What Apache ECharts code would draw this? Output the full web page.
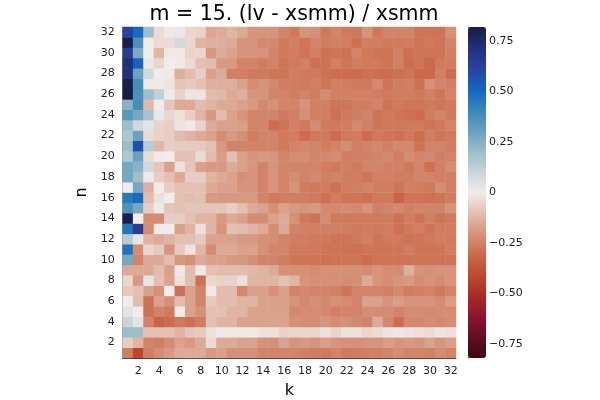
<!DOCTYPE html>
<html><head><meta charset="utf-8">
<script src="https://cdn.jsdelivr.net/npm/echarts@6/dist/echarts.min.js"></script>
<style>html,body{margin:0;padding:0;background:#fff}#c{width:600px;height:400px}</style>
</head><body><div id="c"></div>
<script>
const kCats = Array.from({length: 32}, (_, i) => String(i + 1));
const nCats = Array.from({length: 32}, (_, i) => String(i + 1));
const cbTicks = [-0.75, -0.5, -0.25, 0, 0.25, 0.5, 0.75];
const zMin = -0.82, zMax = 0.82;
// rows: n = 1 .. 32, each with k = 1 .. 32
const z = [
 [-0.26,-0.42,-0.26,-0.22,-0.19,-0.15,-0.15,-0.15,-0.19,-0.17,-0.21,-0.21,-0.21,-0.24,-0.24,-0.24, -0.24,-0.25,-0.26,-0.27,-0.24,-0.27,-0.26,-0.25,-0.25,-0.24,-0.22,-0.24,-0.24,-0.25,-0.22,-0.24],
 [-0.07,-0.13,-0.24,-0.26,-0.22,-0.17,-0.19,-0.15,-0.04,-0.15,-0.15,-0.17,-0.17,-0.21,-0.21,-0.17, -0.20,-0.19,-0.20,-0.18,-0.20,-0.21,-0.21,-0.20,-0.20,-0.18,-0.20,-0.19,-0.20,-0.17,-0.20,-0.18],
 [0.20,0.20,-0.10,-0.10,-0.10,-0.13,-0.09,-0.08,-0.03,0.01,-0.01,-0.01,-0.01,-0.03,-0.03,-0.06, -0.05,-0.05,-0.05,-0.03,-0.06,-0.03,-0.03,-0.05,-0.04,-0.02,-0.01,-0.02,-0.03,-0.04,-0.02,-0.03],
 [0.10,0.04,-0.24,-0.33,-0.30,-0.27,-0.29,-0.26,-0.10,-0.13,-0.13,-0.17,-0.17,-0.17,-0.17,-0.17, -0.21,-0.22,-0.22,-0.20,-0.22,-0.21,-0.23,-0.24,-0.15,-0.23,-0.30,-0.23,-0.23,-0.22,-0.23,-0.22],
 [0.04,0.00,-0.29,-0.24,-0.27,0.00,-0.17,-0.21,-0.10,-0.10,-0.13,-0.13,-0.17,-0.17,-0.17,-0.17, -0.23,-0.22,-0.22,-0.23,-0.25,-0.24,-0.24,-0.22,-0.22,-0.22,-0.24,-0.22,-0.22,-0.23,-0.22,-0.22],
 [0.00,-0.11,-0.29,-0.17,-0.21,-0.11,-0.17,-0.24,-0.08,-0.11,-0.11,-0.13,-0.13,-0.17,-0.17,-0.17, -0.20,-0.23,-0.21,-0.23,-0.21,-0.22,-0.24,-0.17,-0.17,-0.20,-0.18,-0.20,-0.20,-0.20,-0.22,-0.18],
 [-0.08,-0.10,-0.17,-0.21,0.00,-0.29,-0.17,-0.24,-0.01,-0.11,-0.11,-0.23,-0.17,-0.17,-0.21,-0.17, -0.24,-0.23,-0.24,-0.24,-0.25,-0.28,-0.24,-0.24,-0.24,-0.25,-0.23,-0.26,-0.25,-0.24,-0.27,-0.24],
 [-0.05,-0.19,0.03,-0.10,-0.17,-0.03,-0.11,-0.29,-0.05,-0.06,-0.06,-0.03,-0.13,-0.13,-0.13,-0.10, -0.13,-0.20,-0.21,-0.21,-0.21,-0.22,-0.21,-0.15,-0.20,-0.22,-0.20,-0.19,-0.22,-0.20,-0.22,-0.20],
 [-0.15,-0.15,-0.15,-0.11,-0.17,-0.01,-0.11,-0.01,-0.10,-0.11,-0.11,-0.11,-0.12,-0.13,-0.15,-0.21, -0.21,-0.21,-0.22,-0.21,-0.21,-0.21,-0.21,-0.22,-0.20,-0.22,-0.22,-0.14,-0.20,-0.21,-0.20,-0.20],
 [0.28,-0.24,-0.15,-0.15,-0.11,-0.19,-0.21,-0.15,-0.17,-0.17,-0.19,-0.19,-0.21,-0.24,-0.24,-0.26, -0.28,-0.28,-0.28,-0.29,-0.28,-0.28,-0.28,-0.30,-0.28,-0.28,-0.28,-0.28,-0.28,-0.28,-0.28,-0.28],
 [0.47,-0.22,-0.05,-0.08,-0.20,-0.08,-0.02,-0.12,-0.22,-0.15,-0.15,-0.17,-0.17,-0.21,-0.24,-0.24, -0.27,-0.27,-0.27,-0.28,-0.28,-0.29,-0.29,-0.28,-0.28,-0.28,-0.28,-0.26,-0.28,-0.28,-0.28,-0.26],
 [0.14,0.03,-0.13,-0.15,-0.13,-0.10,-0.10,-0.08,-0.17,-0.17,-0.17,-0.19,-0.19,-0.21,-0.22,-0.24, -0.26,-0.26,-0.27,-0.27,-0.28,-0.28,-0.27,-0.25,-0.28,-0.27,-0.27,-0.28,-0.28,-0.27,-0.26,-0.27],
 [0.47,0.65,-0.22,0.00,0.00,-0.17,-0.13,-0.03,-0.13,-0.20,-0.10,-0.11,-0.13,-0.15,-0.22,-0.15, -0.24,-0.25,-0.25,-0.25,-0.25,-0.26,-0.27,-0.26,-0.27,-0.26,-0.29,-0.27,-0.25,-0.28,-0.26,-0.26],
 [0.80,0.00,-0.22,-0.22,-0.07,-0.07,-0.10,-0.13,-0.13,-0.19,-0.15,-0.17,-0.22,-0.22,-0.17,-0.15, -0.21,-0.27,-0.28,-0.22,-0.27,-0.27,-0.27,-0.27,-0.27,-0.26,-0.29,-0.26,-0.28,-0.25,-0.28,-0.27],
 [0.36,0.28,-0.07,-0.01,-0.09,-0.10,-0.09,-0.09,-0.09,-0.09,-0.07,-0.10,-0.15,-0.17,-0.21,-0.17, -0.19,-0.20,-0.19,-0.23,-0.23,-0.22,-0.23,-0.20,-0.25,-0.24,-0.23,-0.25,-0.24,-0.24,-0.24,-0.20],
 [0.45,0.50,-0.11,-0.03,0.00,-0.10,-0.11,-0.10,-0.19,-0.19,-0.19,-0.19,-0.19,-0.24,-0.27,-0.26, -0.26,-0.26,-0.27,-0.29,-0.26,-0.28,-0.28,-0.29,-0.27,-0.27,-0.33,-0.28,-0.28,-0.29,-0.28,-0.26],
 [0.00,0.28,-0.14,0.00,-0.07,-0.10,-0.10,-0.10,-0.15,-0.17,-0.17,-0.20,-0.20,-0.24,-0.20,-0.24, -0.20,-0.26,-0.27,-0.26,-0.29,-0.26,-0.25,-0.24,-0.26,-0.26,-0.28,-0.25,-0.26,-0.27,-0.22,-0.25],
 [0.28,0.20,-0.01,-0.07,-0.10,-0.15,-0.07,-0.07,-0.13,-0.15,-0.17,-0.21,-0.20,-0.24,-0.20,-0.24, -0.22,-0.24,-0.23,-0.25,-0.24,-0.26,-0.26,-0.28,-0.25,-0.25,-0.26,-0.26,-0.24,-0.24,-0.25,-0.25],
 [0.28,0.24,0.08,-0.09,-0.17,-0.03,-0.09,-0.17,-0.19,-0.19,-0.15,-0.17,-0.20,-0.24,-0.20,-0.24, -0.24,-0.24,-0.24,-0.26,-0.27,-0.25,-0.27,-0.24,-0.24,-0.25,-0.25,-0.27,-0.24,-0.29,-0.25,-0.22],
 [0.16,0.30,-0.04,0.01,0.00,-0.10,-0.10,-0.04,-0.11,-0.18,-0.10,-0.17,-0.20,-0.19,-0.20,-0.24, -0.22,-0.22,-0.24,-0.23,-0.22,-0.26,-0.25,-0.25,-0.24,-0.23,-0.26,-0.22,-0.24,-0.23,-0.26,-0.24],
 [0.20,0.58,0.14,-0.12,-0.07,-0.08,-0.08,-0.08,-0.10,-0.19,-0.24,-0.24,-0.24,-0.24,-0.24,-0.27, -0.24,-0.23,-0.24,-0.26,-0.24,-0.22,-0.25,-0.24,-0.23,-0.25,-0.23,-0.23,-0.28,-0.24,-0.24,-0.26],
 [0.16,0.30,-0.04,-0.06,-0.07,-0.11,-0.13,-0.15,-0.17,-0.22,-0.19,-0.21,-0.26,-0.24,-0.24,-0.27, -0.26,-0.30,-0.27,-0.27,-0.30,-0.27,-0.26,-0.30,-0.27,-0.28,-0.29,-0.27,-0.30,-0.26,-0.28,-0.27],
 [0.20,0.08,0.04,-0.06,-0.07,-0.02,-0.01,-0.06,-0.15,-0.17,-0.17,-0.18,-0.24,-0.24,-0.30,-0.28, -0.25,-0.27,-0.22,-0.27,-0.27,-0.26,-0.23,-0.25,-0.28,-0.27,-0.27,-0.27,-0.27,-0.28,-0.27,-0.24],
 [0.34,0.28,0.18,0.02,-0.05,-0.03,-0.07,-0.13,-0.19,-0.11,-0.17,-0.20,-0.24,-0.24,-0.24,-0.27, -0.25,-0.21,-0.25,-0.25,-0.29,-0.27,-0.26,-0.24,-0.28,-0.27,-0.28,-0.29,-0.30,-0.26,-0.24,-0.27],
 [0.24,0.38,-0.12,0.00,-0.09,-0.15,-0.15,-0.11,-0.13,-0.15,-0.15,-0.17,-0.19,-0.23,-0.21,-0.24, -0.24,-0.20,-0.25,-0.25,-0.28,-0.28,-0.26,-0.26,-0.24,-0.28,-0.27,-0.28,-0.28,-0.27,-0.28,-0.27],
 [0.82,0.37,0.20,0.12,0.01,-0.06,-0.02,-0.02,-0.11,-0.12,-0.15,-0.14,-0.20,-0.20,-0.24,-0.24, -0.26,-0.24,-0.26,-0.22,-0.25,-0.25,-0.25,-0.25,-0.26,-0.27,-0.26,-0.26,-0.27,-0.25,-0.28,-0.24],
 [0.80,0.38,-0.01,-0.01,-0.02,-0.09,-0.08,-0.10,-0.14,-0.14,-0.14,-0.17,-0.22,-0.20,-0.23,-0.26, -0.26,-0.27,-0.25,-0.28,-0.25,-0.26,-0.27,-0.27,-0.23,-0.28,-0.26,-0.25,-0.29,-0.21,-0.24,-0.25],
 [0.72,0.30,0.08,0.00,-0.01,-0.14,-0.11,-0.07,-0.17,-0.15,-0.25,-0.25,-0.27,-0.27,-0.28,-0.28, -0.26,-0.27,-0.27,-0.29,-0.30,-0.30,-0.30,-0.29,-0.30,-0.30,-0.29,-0.28,-0.31,-0.31,-0.25,-0.30],
 [0.72,0.52,0.02,-0.05,0.00,-0.01,-0.04,-0.10,-0.11,-0.19,-0.19,-0.24,-0.24,-0.26,-0.24,-0.28, -0.27,-0.25,-0.29,-0.29,-0.25,-0.28,-0.26,-0.27,-0.27,-0.28,-0.25,-0.30,-0.28,-0.31,-0.27,-0.26],
 [0.65,0.27,0.00,-0.12,-0.01,-0.01,-0.06,-0.05,-0.19,-0.15,-0.17,-0.20,-0.20,-0.20,-0.24,-0.27, -0.26,-0.28,-0.25,-0.29,-0.28,-0.29,-0.24,-0.27,-0.28,-0.28,-0.25,-0.29,-0.28,-0.28,-0.28,-0.25],
 [0.80,0.37,0.00,-0.04,-0.04,0.08,-0.05,-0.13,-0.14,-0.14,-0.15,-0.20,-0.20,-0.23,-0.23,-0.27, -0.25,-0.28,-0.24,-0.26,-0.25,-0.26,-0.29,-0.26,-0.26,-0.27,-0.27,-0.26,-0.28,-0.27,-0.28,-0.24],
 [0.62,0.50,0.20,-0.04,-0.01,0.02,-0.05,-0.06,-0.16,-0.15,-0.13,-0.15,-0.20,-0.20,-0.20,-0.24, -0.27,-0.20,-0.21,-0.27,-0.24,-0.27,-0.27,-0.20,-0.27,-0.24,-0.24,-0.24,-0.28,-0.28,-0.28,-0.21]
];
const balanceRev = ['#3c0912','#62101f','#8c1430','#ab2a27','#be4a2e','#cb6a4c','#d6927a','#e3bfb2','#f1eceb','#c8d4da','#9bbdc9','#67a0be','#3886b9','#1465c0','#2a42a0','#22307a','#181c43'];

const data = [];
z.forEach((row, ni) => row.forEach((v, ki) => data.push([ki, ni, v])));

const font = 'DejaVu Sans';
const evenOnly = (i) => i % 2 === 1;
const chart = echarts.init(document.getElementById('c'), null, {renderer: 'canvas'});
chart.setOption({
  animation: false,
  backgroundColor: '#fff',
  textStyle: {fontFamily: font},
  title: {text: 'm = 15. (lv - xsmm) / xsmm', left: 289, top: -1, textAlign: 'center',
    textStyle: {fontFamily: font, fontSize: 20.5, fontWeight: 'normal', color: '#000'}},
  grid: [
    {left: 122.7, top: 27, width: 333.3, height: 331, containLabel: false, outerBoundsMode: 'none'},
    {left: 468, top: 27, width: 18, height: 331, containLabel: false, outerBoundsMode: 'none'}
  ],
  xAxis: [
    {type: 'category', data: kCats, gridIndex: 0, name: 'k', nameLocation: 'middle', nameGap: 25,
     nameTextStyle: {fontFamily: font, fontSize: 16, color: '#000'},
     axisLine: {show: true, lineStyle: {color: '#333', width: 1}},
     axisTick: {show: true, inside: true, length: 3, alignWithLabel: true, interval: evenOnly, lineStyle: {color: '#333'}},
     axisLabel: {interval: evenOnly, fontFamily: font, fontSize: 11, color: '#222', margin: 8},
     splitLine: {show: false}},
    {type: 'value', gridIndex: 1, show: false, min: 0, max: 1}
  ],
  yAxis: [
    {type: 'category', data: nCats, gridIndex: 0, name: 'n', nameLocation: 'middle', nameGap: 29, nameRotate: 90,
     nameTextStyle: {fontFamily: font, fontSize: 16, color: '#000'},
     axisLine: {show: true, lineStyle: {color: '#999', width: 1}},
     axisTick: {show: true, inside: true, length: 3, alignWithLabel: true, interval: evenOnly, lineStyle: {color: '#999'}},
     axisLabel: {interval: evenOnly, fontFamily: font, fontSize: 11, color: '#222', margin: 8},
     splitLine: {show: false}},
    {type: 'value', gridIndex: 1, min: zMin, max: zMax, position: 'right',
     axisLine: {show: true, lineStyle: {color: '#666', width: 1}},
     axisTick: {show: true, inside: false, length: 4, customValues: cbTicks, lineStyle: {color: '#666'}},
     axisLabel: {customValues: cbTicks, fontFamily: font, fontSize: 11, color: '#222', margin: 3,
       formatter: (v) => v === 0 ? '0' : (v < 0 ? '\u2212' + Math.abs(v).toFixed(2) : v.toFixed(2))},
     splitLine: {show: false}}
  ],
  visualMap: {
    type: 'continuous', min: zMin, max: zMax, seriesIndex: 0, calculable: false, orient: 'vertical',
    left: 468, top: 27, itemWidth: 18, itemHeight: 331, padding: 0, text: ['', ''], showLabel: false,
    inRange: {color: balanceRev}
  },
  series: [{
    type: 'heatmap', xAxisIndex: 0, yAxisIndex: 0, data: data, progressive: 0,
    itemStyle: {borderWidth: 0}, emphasis: {disabled: true}
  }]
});
</script></body></html>
